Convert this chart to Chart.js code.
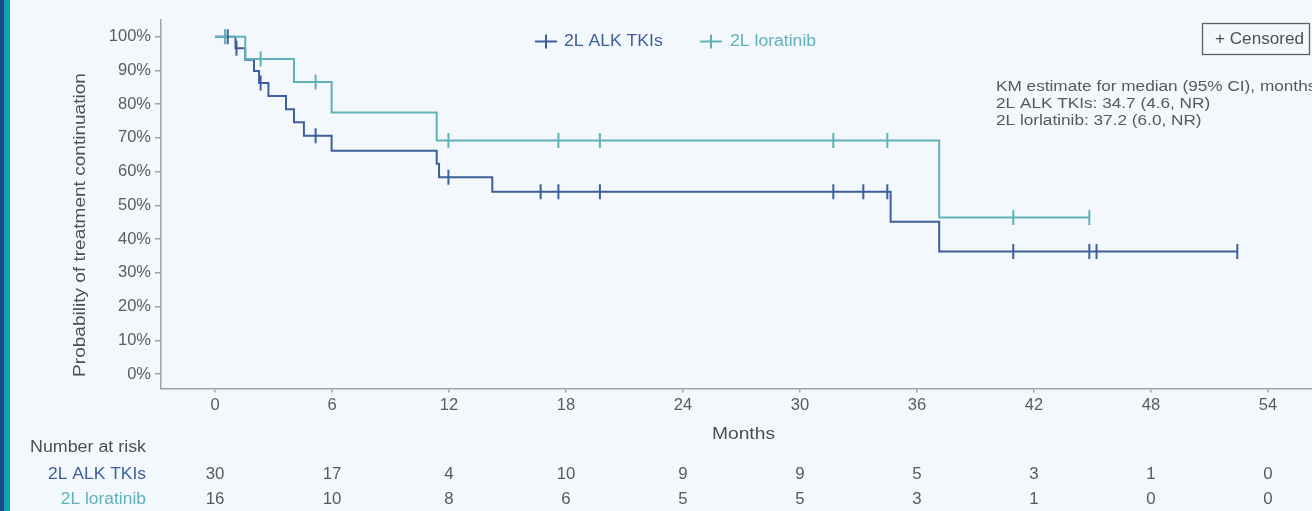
<!DOCTYPE html>
<html>
<head>
<meta charset="utf-8">
<script src="https://cdn.jsdelivr.net/npm/chart.js@4.4.1/dist/chart.umd.min.js"></script>
<style>
html,body{margin:0;padding:0;background:#f2f8fb;overflow:hidden;}
#wrap{position:relative;width:1312px;height:511px;}
canvas{display:block;}
</style>
</head>
<body>
<div id="wrap"><canvas id="c" width="1312" height="511"></canvas></div>
<script>
// ---------------- data ----------------
const seriesNames = ['2L ALK TKIs', '2L loratinib'];

// Kaplan–Meier steps (months, % continuing after each step)
const alkTimes = [0, 1.05, 1.55, 2.0, 2.26, 2.74, 3.64, 4.05, 4.56, 5.98, 11.37, 11.49, 14.22, 34.65, 37.14, 52.43];
const alkSurv  = [100, 96.6, 93.2, 89.8, 86.3, 82.4, 78.5, 74.6, 70.6, 66.2, 62.3, 58.3, 54.0, 45.1, 36.3, 36.3];

const lorTimes = [0, 1.55, 4.05, 5.98, 11.37, 37.14, 44.84];
const lorSurv  = [100, 93.4, 86.6, 77.5, 69.2, 46.4, 46.4];

// censored observations (months)
const alkCensorTimes = [0.65, 1.1, 2.34, 5.16, 11.97, 16.70, 17.61, 19.74, 31.71, 33.25, 34.48, 40.94, 44.84, 45.21, 52.43];
const lorCensorTimes = [0.51, 2.34, 5.16, 11.97, 17.61, 19.74, 31.71, 34.48, 40.94, 44.84];

const xTickValues = [0, 6, 12, 18, 24, 30, 36, 42, 48, 54];
const yTickValues = [0, 10, 20, 30, 40, 50, 60, 70, 80, 90, 100];

const riskTimes = [0, 6, 12, 18, 24, 30, 36, 42, 48, 54];
const alkAtRisk = [30, 17, 4, 10, 9, 9, 5, 3, 1, 0];
const lorAtRisk = [16, 10, 8, 6, 5, 5, 3, 1, 0, 0];

const medianNote = [
  'KM estimate for median (95% CI), months',
  '2L ALK TKIs: 34.7 (4.6, NR)',
  '2L lorlatinib: 37.2 (6.0, NR)'
];
const xTitle = 'Months';
const yTitle = 'Probability of treatment continuation';
const riskTitle = 'Number at risk';
const censorLabel = '+ Censored';

// ---------------- style ----------------
const C_ALK = '#3f5f9c';
const C_LOR = '#62b1ba';
const C_AXIS = '#9ba4ae';
const C_TICK = '#575d65';
const C_TEXT = '#4b5058';
const FONT = '"Liberation Sans", Arial, Helvetica, sans-serif';

function stepValue(times, vals, t) {
  let v = vals[0];
  for (let i = 0; i < times.length; i++) { if (times[i] <= t) v = vals[i]; }
  return v;
}
const toPts = (ts, vs) => ts.map((t, i) => ({x: t, y: vs[i]}));
const censorPts = (cts, ts, vs) => cts.map(t => ({x: t, y: stepValue(ts, vs, t)}));

function txt(ctx, s, x, y, o) {
  ctx.save();
  ctx.translate(x, y);
  if (o.rot) ctx.rotate(o.rot);
  ctx.scale(o.sx || 1, 1);
  ctx.font = (o.weight || 'normal') + ' ' + o.size + 'px ' + FONT;
  ctx.fillStyle = o.color;
  ctx.textAlign = o.align || 'left';
  ctx.textBaseline = 'middle';
  ctx.fillText(s, 0, 0);
  ctx.restore();
}

const bgPlugin = {
  id: 'bg',
  beforeDraw(chart) {
    const ctx = chart.ctx;
    ctx.save();
    ctx.fillStyle = '#f2f8fb';
    ctx.fillRect(0, 0, chart.width, chart.height);
    ctx.fillStyle = '#184b88';
    ctx.fillRect(0, 0, 4, chart.height);
    ctx.fillStyle = '#10a1b3';
    ctx.fillRect(4, 0, 6, chart.height);
    ctx.restore();
  }
};

const decorPlugin = {
  id: 'decor',
  afterDraw(chart) {
    const ctx = chart.ctx;
    const xs = chart.scales.x;
    // axis titles
    txt(ctx, yTitle, 81, 225, {size: 16, color: C_TEXT, rot: -Math.PI / 2, sx: 1.19, align: 'center'});
    txt(ctx, xTitle, 743.5, 434, {size: 17, color: C_TEXT, align: 'center', sx: 1.13});

    // legend
    const legend = [
      {name: seriesNames[0], color: chart.data.datasets[0].borderColor, cx: 546, tx: 564},
      {name: seriesNames[1], color: chart.data.datasets[1].borderColor, cx: 711, tx: 730}
    ];
    legend.forEach(l => {
      ctx.save();
      ctx.strokeStyle = l.color; ctx.lineWidth = 2;
      ctx.beginPath();
      ctx.moveTo(l.cx - 11, 41.5); ctx.lineTo(l.cx + 11, 41.5);
      ctx.moveTo(l.cx, 34.5); ctx.lineTo(l.cx, 48.5);
      ctx.stroke();
      ctx.restore();
      txt(ctx, l.name, l.tx, 41.5, {size: 16, color: l.color, sx: 1.1});
    });

    // censored box
    ctx.save();
    ctx.strokeStyle = '#5b6068'; ctx.lineWidth = 1.3;
    ctx.strokeRect(1202.5, 23.5, 107, 31);
    ctx.restore();
    txt(ctx, censorLabel, 1215, 39.5, {size: 16, color: C_TEXT, sx: 1.07});

    // median note
    medianNote.forEach((s, i) => txt(ctx, s, 996, 86.5 + i * 17, {size: 15.5, color: '#555a62', sx: 1.11}));

    // number at risk
    txt(ctx, riskTitle, 30, 448, {size: 16, color: C_TEXT, sx: 1.115});
    txt(ctx, seriesNames[0], 146, 474.5, {size: 16, color: C_ALK, align: 'right', sx: 1.09});
    txt(ctx, seriesNames[1], 146, 499.5, {size: 16, color: C_LOR, align: 'right', sx: 1.09});
    riskTimes.forEach((t, i) => {
      const px = xs.getPixelForValue(t);
      txt(ctx, String(alkAtRisk[i]), px, 474.5, {size: 16, color: '#555a62', align: 'center', sx: 1.05});
      txt(ctx, String(lorAtRisk[i]), px, 499.5, {size: 16, color: '#555a62', align: 'center', sx: 1.05});
    });
  }
};

const ctx = document.getElementById('c').getContext('2d');
new Chart(ctx, {
  data: {
    datasets: [
      {
        type: 'line', label: seriesNames[0], data: toPts(alkTimes, alkSurv),
        borderColor: C_ALK, borderWidth: 2, stepped: 'before', pointRadius: 0, fill: false, order: 2
      },
      {
        type: 'line', label: seriesNames[1], data: toPts(lorTimes, lorSurv),
        borderColor: C_LOR, borderWidth: 2, stepped: 'before', pointRadius: 0, fill: false, order: 1
      },
      {
        type: 'scatter', label: seriesNames[0] + ' censored', data: censorPts(alkCensorTimes, alkTimes, alkSurv),
        pointStyle: 'line', rotation: 90, pointRadius: 7.5, pointBorderWidth: 2,
        borderColor: C_ALK, backgroundColor: C_ALK, order: 0
      },
      {
        type: 'scatter', label: seriesNames[1] + ' censored', data: censorPts(lorCensorTimes, lorTimes, lorSurv),
        pointStyle: 'line', rotation: 90, pointRadius: 7.5, pointBorderWidth: 2,
        borderColor: C_LOR, backgroundColor: C_LOR, order: 0
      }
    ]
  },
  options: {
    responsive: false,
    animation: false,
    devicePixelRatio: 1,
    layout: {autoPadding: false, padding: {top: 20, left: 0, right: 0, bottom: 0}},
    plugins: {legend: {display: false}, tooltip: {enabled: false}, title: {display: false}},
    scales: {
      x: {
        type: 'linear', position: 'bottom', min: -2.77, max: 56.26,
        grid: {display: true, drawOnChartArea: false, drawTicks: true, tickLength: 4, color: C_AXIS, lineWidth: 1.5},
        border: {display: true, color: C_AXIS, width: 1.5},
        ticks: {color: C_TICK, font: {size: 16.5, family: FONT}, padding: 3, maxRotation: 0, autoSkip: false},
        afterBuildTicks: s => { s.ticks = xTickValues.map(v => ({value: v})); },
        afterFit: s => { s.height = 122.5; s.paddingLeft = 0; s.paddingRight = 0; }
      },
      y: {
        type: 'linear', position: 'left', min: -4.3, max: 104.95,
        grid: {display: true, drawOnChartArea: false, drawTicks: true, tickLength: 6, color: C_AXIS, lineWidth: 1.5},
        border: {display: true, color: C_AXIS, width: 1.5},
        ticks: {color: C_TICK, font: {size: 16.5, family: FONT}, padding: 4, callback: v => v + '%'},
        afterBuildTicks: s => { s.ticks = yTickValues.map(v => ({value: v})); },
        afterFit: s => { s.width = 161; s.paddingTop = 0; s.paddingBottom = 0; }
      }
    }
  },
  plugins: [bgPlugin, decorPlugin]
});
</script>
</body>
</html>
